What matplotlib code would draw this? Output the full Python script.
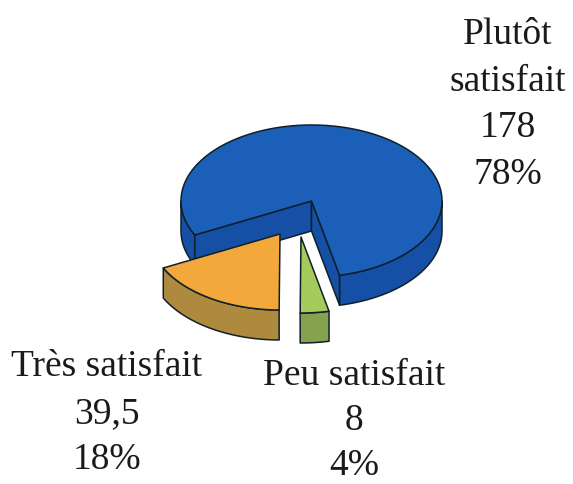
import numpy as np
import matplotlib
matplotlib.use("Agg")
import matplotlib.pyplot as plt
from matplotlib.patches import Polygon

categories = ["Plutôt\nsatisfait", "Très satisfait", "Peu satisfait"]
values = [178, 39.5, 8]
value_labels = ["178", "39,5", "8"]
percent_labels = ["78%", "18%", "4%"]
top_colors = ["#1b5fb8", "#f2a83b", "#a5cb5c"]
side_colors = ["#1550a6", "#ad8a3e", "#87a24f"]

W, H = 573, 485
fig = plt.figure(figsize=(W / 100, H / 100), dpi=100, facecolor="white")
ax = fig.add_axes([0, 0, 1, 1])
ax.set_xlim(0, W)
ax.set_ylim(H, 0)
ax.axis("off")

RX, RY, DEPTH = 130.5, 76, 30
centers = [(311.5, 202), (280, 235), (301, 238)]
EDGE = "#10202a"


def pt(c, deg, dz=0.0):
    t = np.radians(deg)
    return np.column_stack([c[0] + RX * np.cos(t), c[1] - RY * np.sin(t) + dz])


def arc(c, a, b, dz=0.0):
    n = max(int(abs(b - a)) + 2, 3)
    return pt(c, np.linspace(a, b, n), dz)


def face(xy, color, z):
    ax.add_patch(Polygon(xy, closed=True, facecolor=color, edgecolor=EDGE,
                         lw=1.1, joinstyle="round", zorder=z))


def wall(c, a, b, color, z):
    top = arc(c, a, b)
    face(np.vstack([top, arc(c, b, a, DEPTH)]), color, z)


def cut(c, deg, color, z):
    p = pt(c, np.array([deg]))[0]
    face([c, p, (p[0], p[1] + DEPTH), (c[0], c[1] + DEPTH)], color, z)


total = sum(values)
spans = [v / total * 360 for v in values]
start = -77.6
blue_a, blue_b = start, start + spans[0]
or_a, or_b = blue_b, blue_b + spans[1]
gr_a, gr_b = or_b, or_b + spans[2]

# blue slice
wall(centers[0], blue_a, 0, side_colors[0], 1)
wall(centers[0], 180, blue_b, side_colors[0], 1)
cut(centers[0], blue_b, side_colors[0], 2)
cut(centers[0], blue_a, side_colors[0], 2)
face(np.vstack([[centers[0]], arc(centers[0], blue_a, blue_b)]), top_colors[0], 3)

# orange slice
wall(centers[1], or_a, or_b, side_colors[1], 4)
face(np.vstack([[centers[1]], arc(centers[1], or_a, or_b)]), top_colors[1], 5)

# green slice
wall(centers[2], gr_a, gr_b, side_colors[2], 4)
face(np.vstack([[centers[2]], arc(centers[2], gr_a, gr_b)]), top_colors[2], 5)

label_pos = [(508, 20), (107, 352), (354, 361)]
line_steps = [46.5, 46.5, 45]
for (x, y), cat, val, pct, step in zip(label_pos, categories, value_labels,
                                       percent_labels, line_steps):
    lines = cat.split("\n") + [val, pct]
    for i, line in enumerate(lines):
        ax.text(x, y + 15 + i * step, line, ha="center", va="center",
                family=["Liberation Serif", "DejaVu Serif"], fontsize=27,
                color="#1a1a1a")

fig.savefig("out.png", dpi=100, facecolor="white")
